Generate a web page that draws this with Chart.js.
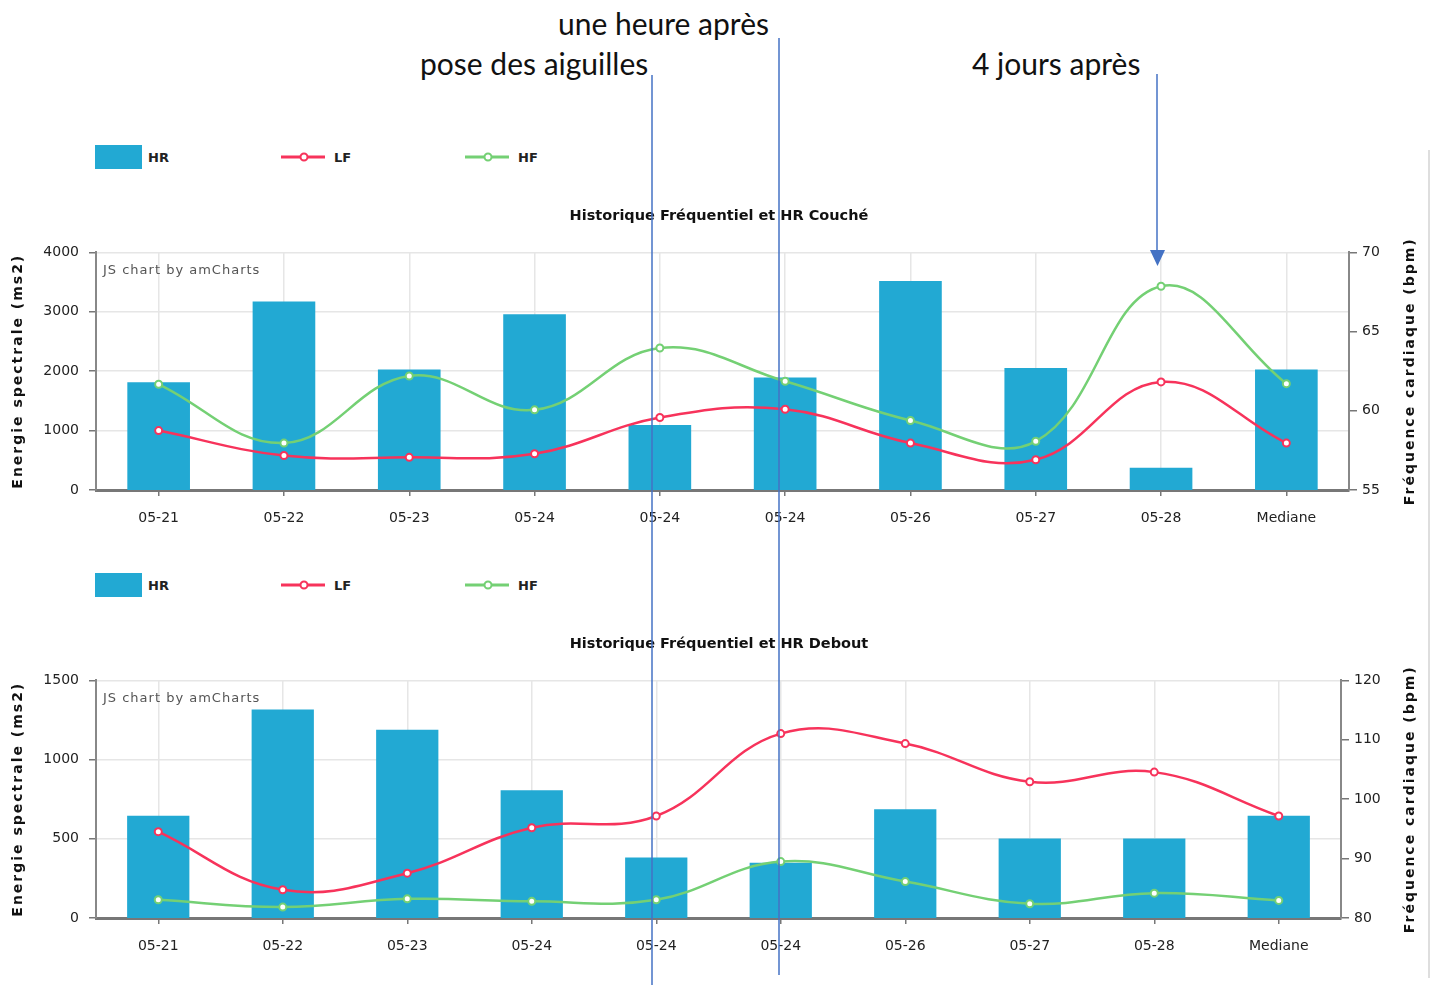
<!DOCTYPE html>
<html lang="fr">
<head>
<meta charset="utf-8">
<title>Historique Fréquentiel et HR</title>
<script src="https://cdn.jsdelivr.net/npm/chart.js@4.4.1/dist/chart.umd.min.js"></script>
<style>
  body { margin: 0; background: #fff; width: 1438px; height: 985px; position: relative; overflow: hidden; }
  .note { position: absolute; font-family: Lato, "Open Sans", sans-serif; font-size: 30px; line-height: 1; color: #111; white-space: nowrap; z-index: 5; }
  .chart-box { position: absolute; left: 0; width: 1438px; height: 345px; }
  .legend { position: absolute; left: 0; width: 700px; height: 26px; }
  .legend .item { position: absolute; top: 0; height: 26px; display: flex; align-items: center; font: bold 13px "DejaVu Sans", sans-serif; color: #222; }
  .legend svg { display: block; }
  svg.overlay { position: absolute; left: 0; top: 0; z-index: 10; pointer-events: none; }
</style>
</head>
<body>

<div class="note" style="left:558px; top:8px;">une heure après</div>
<div class="note" style="left:420px; top:48px;">pose des aiguilles</div>
<div class="note" style="left:972px; top:48px;">4 jours après</div>

<div class="legend" id="legend-couche" style="top:144px;"></div>
<div class="chart-box" style="top:195px;"><canvas id="chart-couche" width="1438" height="345"></canvas></div>

<div class="legend" id="legend-debout" style="top:572px;"></div>
<div class="chart-box" style="top:623px;"><canvas id="chart-debout" width="1438" height="345"></canvas></div>

<svg class="overlay" width="1438" height="985">
  <line x1="1429" y1="150" x2="1429" y2="978" stroke="#dedede" stroke-width="2"/>
  <line x1="652" y1="75" x2="652" y2="985" stroke="#4472c4" stroke-width="1.5"/>
  <line x1="779" y1="38" x2="779" y2="975" stroke="#4472c4" stroke-width="1.5"/>
  <line x1="1157" y1="74" x2="1157" y2="252" stroke="#4472c4" stroke-width="1.5"/>
  <polygon points="1150,250 1165,250 1157.5,266" fill="#4472c4"/>
</svg>

<script>
// données
const categories = ["05-21", "05-22", "05-23", "05-24", "05-24", "05-24", "05-26", "05-27", "05-28", "Mediane"];

// position couchée
const hrCouche = [61.8, 66.9, 62.6, 66.1, 59.1, 62.1, 68.2, 62.7, 56.4, 62.6];
const lfCouche = [1000, 580, 550, 610, 1220, 1360, 790, 510, 1820, 790];
const hfCouche = [1780, 790, 1920, 1350, 2390, 1830, 1170, 820, 3430, 1790];

// position debout
const hrDebout = [97.2, 115.1, 111.7, 101.5, 90.2, 89.3, 98.3, 93.4, 93.4, 97.2];
const lfDebout = [545, 178, 283, 570, 644, 1164, 1101, 860, 921, 644];
const hfDebout = [115, 69, 121, 105, 115, 356, 230, 90, 157, 111];

// graduations des axes
const leftTicksCouche = [0, 1000, 2000, 3000, 4000];
const rightTicksCouche = [55, 60, 65, 70];
const leftTicksDebout = [0, 500, 1000, 1500];
const rightTicksDebout = [80, 90, 100, 110, 120];

const seriesNames = ["HR", "LF", "HF"];
const colors = { HR: "#22a9d3", LF: "#f7335b", HF: "#74d074" };

Chart.defaults.font.family = '"DejaVu Sans", sans-serif';
Chart.defaults.color = "#222";

const watermark = {
  id: "watermark",
  afterDraw(chart) {
    const { ctx, chartArea } = chart;
    ctx.save();
    ctx.font = '13px "DejaVu Sans", sans-serif';
    ctx.letterSpacing = "1px";
    ctx.fillStyle = "#555";
    ctx.textBaseline = "middle";
    ctx.fillText("JS chart by amCharts", chartArea.left + 7, chartArea.top + 18);
    ctx.restore();
  }
};

// titres des axes, écrits de bas en haut des deux côtés
const axisTitles = {
  id: "axisTitles",
  afterDraw(chart, args, opts) {
    const { ctx, chartArea } = chart;
    const cy = (chartArea.top + chartArea.bottom) / 2;
    [[18, opts.left], [chart.width - 28, opts.right]].forEach(([x, text]) => {
      ctx.save();
      ctx.translate(x, cy);
      ctx.rotate(-Math.PI / 2);
      ctx.font = 'bold 14px "DejaVu Sans", sans-serif';
      ctx.letterSpacing = "2px";
      ctx.fillStyle = "#111";
      ctx.textAlign = "center";
      ctx.textBaseline = "middle";
      ctx.fillText(text, 0, 0);
      ctx.restore();
    });
  }
};

function renderLegend(id) {
  const el = document.getElementById(id);
  const xs = [95, 281, 465];
  seriesNames.forEach((name, i) => {
    const item = document.createElement("div");
    item.className = "item";
    item.style.left = xs[i] + "px";
    const c = colors[name];
    let marker;
    if (name === "HR") {
      marker = `<svg width="47" height="24"><rect x="0" y="0" width="47" height="24" fill="${c}"/></svg>`;
    } else {
      marker = `<svg width="44" height="12"><line x1="0" y1="6" x2="44" y2="6" stroke="${c}" stroke-width="3"/>` +
               `<circle cx="23" cy="6" r="3.5" fill="#fff" stroke="${c}" stroke-width="2"/></svg>`;
    }
    item.innerHTML = marker + `<span style="margin-left:${name === "HR" ? 6 : 9}px">${name}</span>`;
    el.appendChild(item);
  });
}

function drawChart(canvasId, title, hr, lf, hf, leftTicks, rightTicks, rightWidth) {
  const ctx = document.getElementById(canvasId).getContext("2d");
  return new Chart(ctx, {
    data: {
      labels: categories,
      datasets: [
        {
          type: "line", label: "LF", data: lf, yAxisID: "y", order: 1,
          borderColor: colors.LF, borderWidth: 2.5, tension: 0.4,
          pointRadius: 3.5, pointBackgroundColor: "#fff", pointBorderColor: colors.LF, pointBorderWidth: 2
        },
        {
          type: "line", label: "HF", data: hf, yAxisID: "y", order: 2,
          borderColor: colors.HF, borderWidth: 2.5, tension: 0.4,
          pointRadius: 3.5, pointBackgroundColor: "#fff", pointBorderColor: colors.HF, pointBorderWidth: 2
        },
        {
          type: "bar", label: "HR", data: hr, yAxisID: "y1", order: 3,
          backgroundColor: colors.HR, barPercentage: 0.5, categoryPercentage: 1
        }
      ]
    },
    options: {
      responsive: false,
      animation: false,
      layout: { padding: 0 },
      plugins: {
        legend: { display: false },
        title: {
          display: true, text: title, color: "#111",
          font: { size: 14.5, weight: "bold" },
          padding: { top: 13, bottom: 27 }
        },
        axisTitles: { left: "Energie spectrale (ms2)", right: "Fréquence cardiaque (bpm)" }
      },
      scales: {
        x: {
          offset: true,
          grid: { offset: false, color: "#e6e6e6", lineWidth: 1.5, tickColor: "#777", tickLength: 6 },
          border: { color: "#777", width: 3 },
          ticks: { color: "#222", font: { size: 14 }, padding: 14, maxRotation: 0, autoSkip: false },
          afterFit(s) { s.height = 50; }
        },
        y: {
          position: "left",
          min: leftTicks[0], max: leftTicks[leftTicks.length - 1],
          afterBuildTicks(s) { s.ticks = leftTicks.map(v => ({ value: v })); },
          ticks: { color: "#222", font: { size: 14 }, padding: 10, callback: v => String(v) },
          grid: { color: "#e6e6e6", lineWidth: 1.5, tickColor: "#777", tickLength: 7 },
          border: { color: "#888", width: 2 },
          afterFit(s) { s.width = 96; }
        },
        y1: {
          position: "right",
          min: rightTicks[0], max: rightTicks[rightTicks.length - 1],
          afterBuildTicks(s) { s.ticks = rightTicks.map(v => ({ value: v })); },
          ticks: { color: "#222", font: { size: 14 }, padding: 5, callback: v => String(v) },
          grid: { drawOnChartArea: false, tickColor: "#777", tickLength: 8, lineWidth: 1.5 },
          border: { color: "#888", width: 2 },
          afterFit(s) { s.width = rightWidth; }
        }
      }
    },
    plugins: [watermark, axisTitles]
  });
}

renderLegend("legend-couche");
renderLegend("legend-debout");
drawChart("chart-couche", "Historique Fréquentiel et HR Couché",
  hrCouche, lfCouche, hfCouche, leftTicksCouche, rightTicksCouche, 89);
drawChart("chart-debout", "Historique Fréquentiel et HR Debout",
  hrDebout, lfDebout, hfDebout, leftTicksDebout, rightTicksDebout, 97);
</script>
</body>
</html>
